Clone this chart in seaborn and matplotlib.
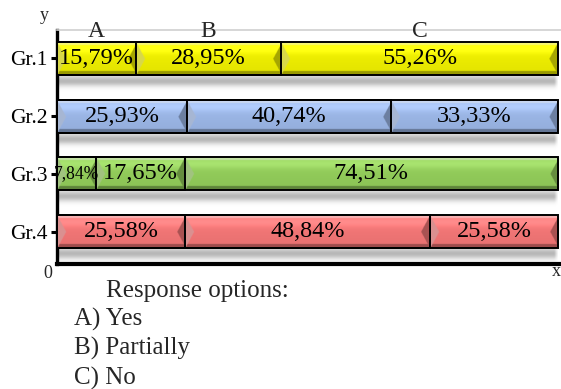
import numpy as np
import pandas as pd
import matplotlib
matplotlib.use("Agg")
import matplotlib.pyplot as plt
import matplotlib.transforms as mtransforms
from matplotlib.colors import to_rgb
import seaborn as sns

# ---- data -------------------------------------------------------------
groups = ["Gr.1", "Gr.2", "Gr.3", "Gr.4"]
options = ["A", "B", "C"]
yes = [15.79, 25.93, 7.84, 25.58]
partially = [28.95, 40.74, 17.65, 48.84]
no = [55.26, 33.33, 74.51, 25.58]
group_colors = ["#EEEE00", "#9BB6E6", "#92CC5A", "#F27676"]
legend_lines = ["Response options:", "A) Yes", "B) Partially", "C) No"]

sns.set_theme(style="white")
plt.rcParams["font.family"] = ["Liberation Serif", "DejaVu Serif"]

df = pd.DataFrame({"group": groups, "A": yes, "B": partially, "C": no})
df["AB"] = df["A"] + df["B"]
df["ABC"] = df["AB"] + df["C"]

W, H, DPI = 561, 389, 100
fig = plt.figure(figsize=(W / DPI, H / DPI), dpi=DPI)
ax = fig.add_axes([57 / W, 1 - 264 / H, 504 / W, 234 / H])

# stacked bars: cumulative totals drawn from longest to shortest
bar_h = 0.57
for col in ["ABC", "AB", "A"]:
    sns.barplot(data=df, x=col, y="group", hue="group", palette=group_colors,
                legend=False, width=bar_h, edgecolor="black", linewidth=1.4,
                ax=ax, zorder=4)

XMAX = 100 * 504 / 501
YLIM = (3.563, -0.494)
ax.set_xlim(0, XMAX)
ax.set_ylim(*YLIM)

px_per_x = 504 / XMAX
px_per_y = 234 / (YLIM[0] - YLIM[1])


def mix(c, other, t):
    return np.asarray(c) * (1 - t) + np.asarray(other) * t


def bevel_image(color, wpx, hpx, bx=9.0, by_top=3.0, by_bottom=4.5):
    """RGB array of a bevelled button face of the given pixel size."""
    s = 3
    nw, nh = max(int(wpx * s), 2), max(int(hpx * s), 2)
    rr, cc = np.mgrid[0:nh, 0:nw] / s
    dt, db = rr, hpx - rr
    dl, dr = cc, wpx - cc
    half = hpx / 2
    end_w = bx * np.minimum(dt, db) / half
    base = np.asarray(to_rgb(color))
    frac = (rr / hpx)[..., None]
    face = base[None, None, :] * (1.03 - 0.08 * frac)
    face = face + 0.08 * np.exp(-((frac - 0.2) / 0.15) ** 2)
    img = np.clip(face, 0, 1)
    img[dt < by_top] = mix(base, (1, 1, 1), 0.45)
    img[db < by_bottom] = mix(base, (0, 0, 0), 0.35)
    img[dl < end_w] = mix(base, (0.72, 0.72, 0.72), 0.40)
    img[dr < end_w] = mix(base, (0, 0, 0), 0.30)
    return np.clip(img, 0, 1)


def shadow_image(wpx, depth=18):
    s = 2
    nw, nh = max(int(wpx * s), 2), depth * s
    rr, cc = np.mgrid[0:nh, 0:nw] / s
    prof = 0.42 * np.exp(-((rr - 6.0) / 5.0) ** 2) + 0.10 * np.exp(-rr / 3.0)
    fade = np.clip((wpx - cc) / 4.0, 0, 1)
    img = np.zeros((nh, nw, 4))
    img[..., :3] = 0.35
    img[..., 3] = np.clip(prof * fade, 0, 1)
    return img, depth


# bar patches keep only their outline; bevelled faces go underneath
rows = {}
for p in ax.patches:
    yc = p.get_y() + p.get_height() / 2
    rows.setdefault(int(round(yc)), []).append(p)
    p.set_facecolor("none")

for key, plist in rows.items():
    p0 = plist[0]
    color = group_colors[key]
    y0, y1 = p0.get_y(), p0.get_y() + p0.get_height()
    ends = sorted({round(p.get_x() + p.get_width(), 6) for p in plist})
    starts = [0.0] + ends[:-1]
    hpx = (y1 - y0) * px_per_y
    for x0, x1 in zip(starts, ends):
        img = bevel_image(color, (x1 - x0) * px_per_x, hpx)
        ax.imshow(img, extent=[x0, x1, y1, y0], aspect="auto",
                  interpolation="bilinear", zorder=3)
    total = ends[-1]
    simg, depth = shadow_image(total * px_per_x)
    ax.imshow(simg, extent=[0, total, y1 + depth / px_per_y, y1],
              aspect="auto", interpolation="bilinear", zorder=2)

ax.set_xlim(0, XMAX)
ax.set_ylim(*YLIM)

# value labels centred in each segment, shrunk when a segment is too narrow
renderer = fig.canvas.get_renderer()
for i, vals in enumerate(zip(yes, partially, no)):
    start = 0.0
    for v in vals:
        t = ax.text(start + v / 2, i, f"{v:.2f}".replace(".", ",") + "%",
                    ha="center", va="center", fontsize=17.5, color="black",
                    zorder=6)
        wpx = t.get_window_extent(renderer).width
        room = v * px_per_x * 1.15
        if wpx > room:
            t.set_fontsize(17.5 * room / wpx)
        start += v

# option letters above the first group's segments
blend = mtransforms.blended_transform_factory(ax.transData, ax.transAxes)
start = 0.0
for lab, v in zip(options, [yes[0], partially[0], no[0]]):
    ax.text(start + v / 2, 0.992, lab, transform=blend, ha="center",
            va="center", fontsize=17, zorder=6)
    start += v

# axes styling
ax.set_xlabel("")
ax.set_ylabel("")
ax.set_xticks([])
ax.tick_params(axis="y", left=True, length=4, width=2.2, color="black",
               labelsize=15.5, pad=3)
for lbl in ax.get_yticklabels():
    lbl.set_color("black")
ax.spines["left"].set_linewidth(2.4)
ax.spines["left"].set_color("black")
ax.spines["bottom"].set_linewidth(3)
ax.spines["bottom"].set_color("black")
ax.spines["top"].set_color("#D0D0D0")
ax.spines["top"].set_linewidth(1.2)
ax.spines["right"].set_visible(False)
ax.set_facecolor("white")

fig.text(48 / W, 1 - 273 / H, "0", ha="center", va="center", fontsize=13)
fig.text(556 / W, 1 - 272 / H, "x", ha="center", va="center", fontsize=13)
fig.text(44 / W, 1 - 16 / H, "y", ha="center", va="center", fontsize=13)

fig.text(106 / W, 1 - 291 / H, legend_lines[0], ha="left", va="center",
         fontsize=18)
for k, line in enumerate(legend_lines[1:]):
    fig.text(74 / W, 1 - (319 + 29.5 * k) / H, line, ha="left", va="center",
             fontsize=18)

fig.savefig("out.png", dpi=DPI)
